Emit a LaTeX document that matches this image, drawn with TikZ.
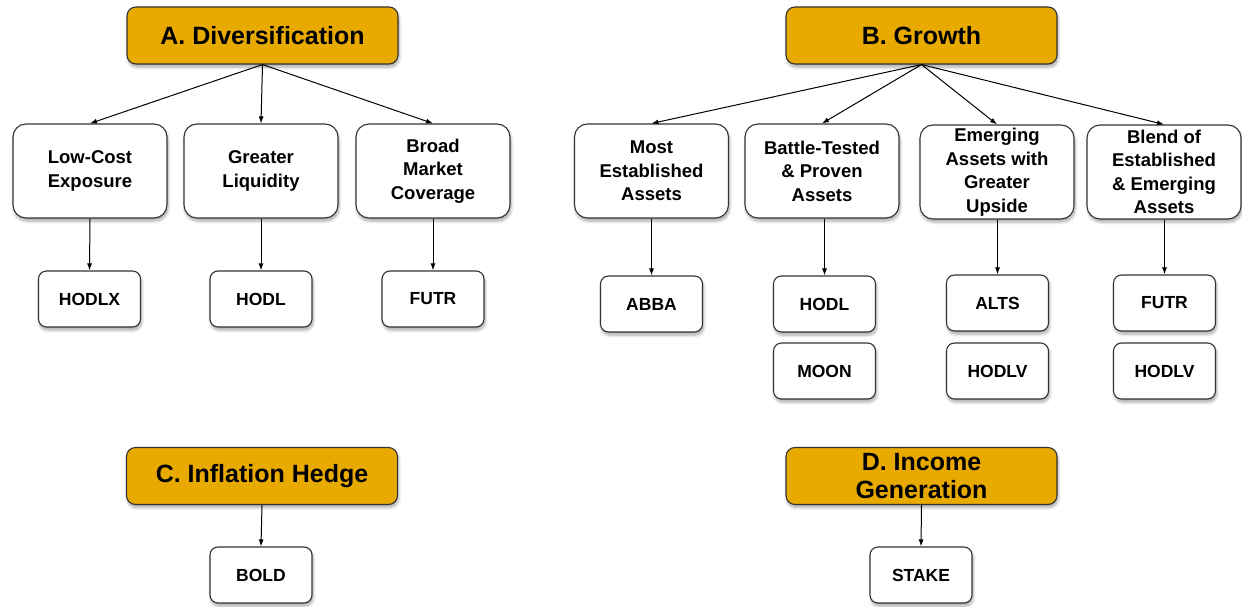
\documentclass[tikz,border=0pt]{standalone}
\usepackage{fontspec}
\setmainfont{Liberation Sans}
\usetikzlibrary{arrows.meta,shadows,shadows.blur}
\definecolor{gold}{HTML}{E9AA00}
\definecolor{edge}{HTML}{333333}
\tikzset{
  base/.style={rectangle, draw=edge, line width=1.1pt, align=center, inner sep=0pt,
    blur shadow={shadow xshift=1pt, shadow yshift=-3pt, shadow opacity=35, shadow blur radius=3pt, shadow blur steps=6}},
  head/.style={base, fill=gold, rounded corners=9pt, minimum width=271pt, minimum height=57pt,
    font=\bfseries\fontsize{25}{28}\selectfont},
  cat/.style={base, fill=white, rounded corners=13pt, minimum width=154pt, minimum height=94pt,
    font=\bfseries\fontsize{18.5}{23.5}\selectfont},
  leaf/.style={base, fill=white, rounded corners=8pt, minimum width=102pt, minimum height=56pt,
    font=\bfseries\fontsize{17.5}{21}\selectfont},
  arr/.style={draw=black, line width=1pt, -{Latex[length=7pt,width=5pt]}}
}
\begin{document}
\begin{tikzpicture}[x=1pt,y=-1pt]
\useasboundingbox (0,0) rectangle (1242,607);
% headers
\node[head] (A) at (262.5,35.5) {A. Diversification};
\node[head] (B) at (921.5,35.5) {B. Growth};
\node[head] (C) at (262,476) {C. Inflation Hedge};
\node[head] (D) at (921.5,476) {D. Income\\Generation};
% A categories
\node[cat] (a1) at (90,171) {Low-Cost\\Exposure};
\node[cat] (a2) at (261,171) {Greater\\Liquidity};
\node[cat] (a3) at (433,171) {Broad\\Market\\Coverage};
% B categories
\node[cat] (b1) at (651.5,171) {Most\\Established\\Assets};
\node[cat] (b2) at (822,171) {Battle-Tested\\\& Proven\\Assets};
\node[cat] (b3) at (997,172) {Emerging\\Assets with\\Greater\\Upside};
\node[cat] (b4) at (1164,172) {Blend of\\Established\\\& Emerging\\Assets};
% leaves A
\node[leaf] (l1) at (89.5,299) {HODLX};
\node[leaf] (l2) at (261,299) {HODL};
\node[leaf] (l3) at (433,299) {FUTR};
% leaves B
\node[leaf] (m1) at (651.5,304) {ABBA};
\node[leaf] (m2) at (824.5,304) {HODL};
\node[leaf] (m3) at (824.5,371) {MOON};
\node[leaf] (m4) at (997.5,303) {ALTS};
\node[leaf] (m5) at (997.5,371) {HODLV};
\node[leaf] (m6) at (1164.5,303) {FUTR};
\node[leaf] (m7) at (1164.5,371) {HODLV};
% leaves C D
\node[leaf] (c1) at (261,575) {BOLD};
\node[leaf] (d1) at (921,575) {STAKE};
% arrows
\foreach \t in {a1,a2,a3} \draw[arr] (A.south) -- (\t.north);
\foreach \t in {b1,b2,b3,b4} \draw[arr] (B.south) -- (\t.north);
\draw[arr] (a1.south) -- (l1.north);
\draw[arr] (a2.south) -- (l2.north);
\draw[arr] (a3.south) -- (l3.north);
\draw[arr] (b1.south) -- (m1.north);
\draw[arr] (b2.south -| m2.north) -- (m2.north);
\draw[arr] (b3.south -| m4.north) -- (m4.north);
\draw[arr] (b4.south -| m6.north) -- (m6.north);
\draw[arr] (C.south) -- (c1.north);
\draw[arr] (D.south) -- (d1.north);
\end{tikzpicture}
\end{document}
